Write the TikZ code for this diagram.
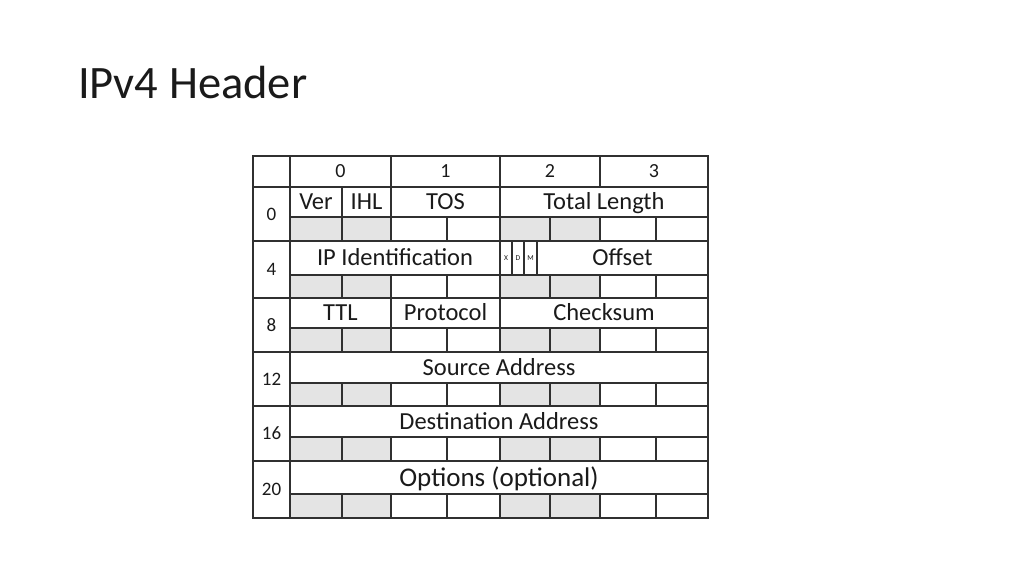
\documentclass[tikz,border=0pt]{standalone}
\usepackage{fontspec}
\setmainfont{Carlito}
\definecolor{linec}{HTML}{303030}
\definecolor{grayc}{HTML}{E4E4E4}
\definecolor{textc}{HTML}{1A1A1A}
\newcommand\cel[7]{\node[cellbase,#6,minimum width={#4pt-#2pt},minimum height={#5pt-#3pt}] (#1) at ({(#2+#4)/2},{(#3+#5)/2}) {#7};}
\tikzset{
  cellbase/.style={draw=linec,line width=1.5pt,rectangle,inner sep=0pt,outer sep=0pt,text=textc,
    text height=15.6pt,text depth=0pt,font=\fontsize{24.5}{26}\selectfont},
  shade/.style={fill=grayc},
  plain/.style={fill=white},
  numlab/.style={text height=12pt,font=\fontsize{19}{21}\selectfont},
  hdrlab/.style={text height=12.6pt,font=\fontsize{20}{22}\selectfont},
  tiny/.style={text height=5pt,font=\fontsize{7.5}{8}\selectfont},
  big/.style={text height=17.2pt,font=\fontsize{27}{29}\selectfont},
  titlestyle/.style={anchor=base west,inner sep=0pt,text=textc,font=\fontsize{46.5}{50}\selectfont}
}
\begin{document}
\begin{tikzpicture}[x=1pt,y=-1pt]
\useasboundingbox (0,0) rectangle (1024,576);
\node[titlestyle] (title) at (78,98.3) {IPv4 Header};
% header row
\cel{corner}{253}{156}{290}{187}{plain}{}
\cel{h0}{290}{156}{391}{187}{plain,hdrlab}{0}
\cel{h1}{391}{156}{500}{187}{plain,hdrlab}{1}
\cel{h2}{500}{156}{600}{187}{plain,hdrlab}{2}
\cel{h3}{600}{156}{708}{187}{plain,hdrlab}{3}
% row labels
\cel{l0}{253}{187}{290}{241}{plain,numlab}{0}
\cel{l4}{253}{241}{290}{298}{plain,numlab}{4}
\cel{l8}{253}{298}{290}{352}{plain,numlab}{8}
\cel{l12}{253}{352}{290}{406}{plain,numlab}{12}
\cel{l16}{253}{406}{290}{461}{plain,numlab}{16}
\cel{l20}{253}{461}{290}{518}{plain,numlab}{20}
% row 0
\cel{ver}{290}{187}{342}{217}{plain}{Ver}
\cel{ihl}{342}{187}{391}{217}{plain}{IHL}
\cel{tos}{391}{187}{500}{217}{plain}{TOS}
\cel{tlen}{500}{187}{708}{217}{plain}{Total Length}
% row 4
\cel{ipid}{290}{241}{500}{275}{plain}{IP Identification}
\cel{fx}{500}{241}{512}{275}{plain,tiny}{X}
\cel{fd}{512}{241}{524}{275}{plain,tiny}{D}
\cel{fm}{524}{241}{537}{275}{plain,tiny}{M}
\cel{offs}{537}{241}{708}{275}{plain}{Offset}
% row 8
\cel{ttl}{290}{298}{391}{328}{plain}{TTL}
\cel{proto}{391}{298}{500}{328}{plain}{Protocol}
\cel{csum}{500}{298}{708}{328}{plain}{Checksum}
% rows 12-20
\cel{src}{290}{352}{708}{383}{plain}{Source Address}
\cel{dst}{290}{406}{708}{437}{plain}{Destination Address}
\cel{opt}{290}{461}{708}{494}{plain,big}{Options (optional)}
% shaded sub-rows
\foreach \r/\a/\b in {0/217/241,4/275/298,8/328/352,12/383/406,16/437/461,20/494/518}{
  \cel{s\r a}{290}{\a}{342}{\b}{shade}{}
  \cel{s\r b}{342}{\a}{391}{\b}{shade}{}
  \cel{s\r c}{391}{\a}{447}{\b}{plain}{}
  \cel{s\r d}{447}{\a}{500}{\b}{plain}{}
  \cel{s\r e}{500}{\a}{550}{\b}{shade}{}
  \cel{s\r f}{550}{\a}{600}{\b}{shade}{}
  \cel{s\r g}{600}{\a}{656}{\b}{plain}{}
  \cel{s\r h}{656}{\a}{708}{\b}{plain}{}
}
\end{tikzpicture}
\end{document}
